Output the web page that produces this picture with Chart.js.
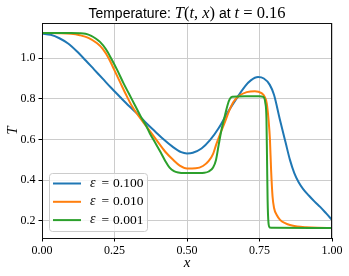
<!DOCTYPE html>
<html>
<head>
<meta charset="utf-8">
<script src="https://cdn.jsdelivr.net/npm/chart.js@4"></script>
<style>
  html, body { margin: 0; padding: 0; background: #fff; }
  canvas { display: block; }
</style>
</head>
<body>
<canvas id="chart" width="349" height="276"></canvas>
<script>
// values
const epsLabels = ['0.100', '0.010', '0.001'];
const xTicks = [0, 0.25, 0.5, 0.75, 1.0];
const yTicks = [0.2, 0.4, 0.6, 0.8, 1.0];

// eps = 0.100
const xEps100 = [0, 0.03, 0.06, 0.09, 0.12, 0.15, 0.18, 0.21, 0.24, 0.27, 0.3, 0.33, 0.36, 0.39, 0.42, 0.45, 0.48, 0.5, 0.52, 0.55, 0.58, 0.61, 0.64, 0.67, 0.7, 0.72, 0.745, 0.765, 0.785, 0.8, 0.82, 0.84, 0.855, 0.87, 0.885, 0.9, 0.92, 0.94, 0.96, 0.98, 1.0];
const tEps100 = [1.121, 1.115, 1.098, 1.072, 1.034, 0.99, 0.944, 0.898, 0.852, 0.808, 0.765, 0.725, 0.68, 0.64, 0.6, 0.565, 0.538, 0.532, 0.535, 0.556, 0.598, 0.658, 0.733, 0.8, 0.862, 0.891, 0.907, 0.9, 0.87, 0.82, 0.7, 0.585, 0.5, 0.435, 0.39, 0.358, 0.325, 0.295, 0.268, 0.237, 0.205];

// eps = 0.010
const xEps010 = [0, 0.06, 0.1, 0.13, 0.16, 0.19, 0.21, 0.23, 0.25, 0.27, 0.29, 0.31, 0.335, 0.36, 0.395, 0.425, 0.453, 0.475, 0.5, 0.53, 0.555, 0.575, 0.59, 0.6, 0.615, 0.631, 0.645, 0.66, 0.68, 0.706, 0.734, 0.757, 0.768, 0.775, 0.781, 0.786, 0.79, 0.795, 0.8, 0.81, 0.821, 0.84, 0.855, 0.88, 0.91, 0.95, 1.0];
const tEps010 = [1.124, 1.123, 1.12, 1.113, 1.1, 1.073, 1.045, 1.0, 0.94, 0.88, 0.82, 0.765, 0.712, 0.665, 0.597, 0.54, 0.499, 0.472, 0.458, 0.459, 0.47, 0.495, 0.53, 0.573, 0.63, 0.687, 0.74, 0.785, 0.815, 0.833, 0.838, 0.828, 0.81, 0.778, 0.7, 0.6, 0.45, 0.32, 0.265, 0.228, 0.205, 0.188, 0.18, 0.173, 0.169, 0.166, 0.165];

// eps = 0.001
const xEps001 = [0, 0.1, 0.13, 0.15, 0.17, 0.185, 0.2, 0.22, 0.24, 0.26, 0.28, 0.3, 0.32, 0.34, 0.36, 0.372, 0.39, 0.41, 0.425, 0.44, 0.455, 0.47, 0.49, 0.52, 0.56, 0.575, 0.59, 0.6, 0.61, 0.62, 0.631, 0.64, 0.648, 0.656, 0.7, 0.75, 0.763, 0.77, 0.774, 0.776, 0.778, 0.781, 0.785, 0.8, 1.0];
const tEps001 = [1.124, 1.124, 1.123, 1.12, 1.11, 1.097, 1.08, 1.045, 0.995, 0.94, 0.88, 0.825, 0.77, 0.715, 0.665, 0.63, 0.585, 0.535, 0.495, 0.462, 0.445, 0.438, 0.435, 0.435, 0.437, 0.443, 0.463, 0.5, 0.58, 0.655, 0.72, 0.77, 0.8, 0.81, 0.813, 0.813, 0.81, 0.78, 0.7, 0.5, 0.3, 0.19, 0.168, 0.166, 0.165];

const colors = ['#1f77b4', '#ff7f0e', '#2ca02c'];
const serif = '"Liberation Serif", "DejaVu Serif", serif';
const sans = '"Liberation Sans", "DejaVu Sans", sans-serif';

function toPoints(xs, ys) {
    return xs.map((x, i) => ({ x: x, y: ys[i] }));
}

const series = [toPoints(xEps100, tEps100), toPoints(xEps010, tEps010), toPoints(xEps001, tEps001)];

// title with mixed text / math fonts
const titlePlugin = {
    id: 'mixedTitle',
    afterDraw(chart) {
        const ctx = chart.ctx;
        const parts = [
            ['Temperature: ', '14px ' + sans],
            ['T', 'italic 16.5px ' + serif],
            ['(', '16.5px ' + serif],
            ['t', 'italic 16.5px ' + serif],
            [', ', '16.5px ' + serif],
            ['x', 'italic 16.5px ' + serif],
            [')', '16.5px ' + serif],
            [' at ', '14px ' + sans],
            ['t', 'italic 16.5px ' + serif],
            [' = 0.16', '16.5px ' + serif]
        ];
        ctx.save();
        let total = 0;
        parts.forEach(p => { ctx.font = p[1]; total += ctx.measureText(p[0]).width; });
        const area = chart.chartArea;
        let x = (area.left + area.right) / 2 - total / 2;
        ctx.fillStyle = '#000';
        ctx.textBaseline = 'alphabetic';
        parts.forEach(p => {
            ctx.font = p[1];
            ctx.fillText(p[0], x, 18);
            x += ctx.measureText(p[0]).width;
        });
        ctx.restore();
    }
};

// full box around the axes
const framePlugin = {
    id: 'frame',
    afterDatasetsDraw(chart) {
        const a = chart.chartArea;
        const ctx = chart.ctx;
        ctx.save();
        ctx.strokeStyle = '#111';
        ctx.lineWidth = 1;
        ctx.strokeRect(Math.round(a.left) + 0.5, Math.round(a.top) + 0.5,
            Math.round(a.right - a.left) - 1, Math.round(a.bottom - a.top));
        ctx.restore();
    }
};

// legend in the lower left, inside the axes
const legendPlugin = {
    id: 'innerLegend',
    afterDraw(chart) {
        const ctx = chart.ctx;
        const a = chart.chartArea;
        const bx = a.left + 7, by = a.bottom - 65, bw = 98, bh = 58;
        ctx.save();
        ctx.beginPath();
        ctx.roundRect(bx + 0.5, by + 0.5, bw, bh, 3);
        ctx.fillStyle = 'rgba(255,255,255,0.8)';
        ctx.fill();
        ctx.strokeStyle = '#cccccc';
        ctx.lineWidth = 1;
        ctx.stroke();
        chart.data.datasets.forEach((ds, i) => {
            const y = by + 10.5 + i * 18.3;
            ctx.beginPath();
            ctx.moveTo(bx + 4, y);
            ctx.lineTo(bx + 32, y);
            ctx.strokeStyle = ds.borderColor;
            ctx.lineWidth = 2;
            ctx.stroke();
            ctx.fillStyle = '#000';
            ctx.textBaseline = 'middle';
            ctx.font = 'italic 14px ' + serif;
            ctx.fillText('\u03b5', bx + 41, y - 0.5);
            ctx.font = '13.5px ' + serif;
            ctx.fillText('=', bx + 52.5, y);
            ctx.fillText(epsLabels[i], bx + 64, y);
        });
        ctx.restore();
    }
};

new Chart(document.getElementById('chart').getContext('2d'), {
    type: 'line',
    data: {
        datasets: series.map((pts, i) => ({
            label: '\u03b5 = ' + epsLabels[i],
            data: pts,
            borderColor: colors[i],
            backgroundColor: colors[i],
            borderWidth: 2,
            pointRadius: 0,
            fill: false,
            cubicInterpolationMode: 'monotone',
            order: 2 - i
        }))
    },
    options: {
        responsive: false,
        animation: false,
        devicePixelRatio: 1,
        layout: { padding: { left: 0, right: 17, top: 23, bottom: 0 } },
        plugins: {
            legend: { display: false },
            tooltip: { enabled: false },
            title: { display: false }
        },
        scales: {
            x: {
                type: 'linear',
                min: 0,
                max: 1,
                afterFit: s => { s.height = 38; },
                afterBuildTicks: s => { s.ticks = xTicks.map(v => ({ value: v })); },
                grid: {
                    color: '#cccccc',
                    lineWidth: 1,
                    tickColor: '#000',
                    tickLength: 3.5
                },
                border: { display: false },
                ticks: {
                    color: '#000',
                    padding: 2,
                    maxRotation: 0,
                    font: { family: serif, size: 12 },
                    callback: v => v.toFixed(2)
                },
                title: {
                    display: true,
                    text: 'x',
                    color: '#000',
                    font: { family: serif, size: 15, style: 'italic' },
                    padding: { top: 0, bottom: 4 }
                }
            },
            y: {
                type: 'linear',
                min: 0.116,
                max: 1.173,
                afterFit: s => { s.width = 42; },
                afterBuildTicks: s => { s.ticks = yTicks.map(v => ({ value: v })); },
                grid: {
                    color: '#cccccc',
                    lineWidth: 1,
                    tickColor: '#000',
                    tickLength: 3.5
                },
                border: { display: false },
                ticks: {
                    color: '#000',
                    padding: 3,
                    font: { family: serif, size: 12 },
                    callback: v => v.toFixed(1)
                },
                title: {
                    display: true,
                    text: 'T',
                    color: '#000',
                    font: { family: serif, size: 15, style: 'italic' },
                    padding: { top: 4, bottom: 0 }
                }
            }
        }
    },
    plugins: [framePlugin, legendPlugin, titlePlugin]
});
</script>
</body>
</html>
